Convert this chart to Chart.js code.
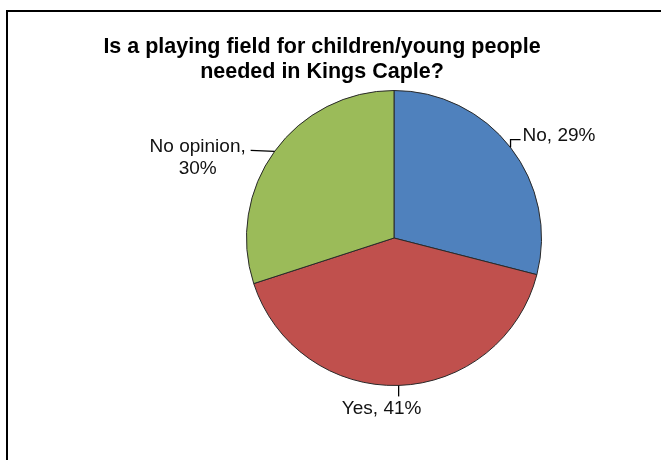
<!DOCTYPE html>
<html lang="en">

<head>
    <meta charset="UTF-8">
    <title>Playing field survey</title>
    <script src="https://cdn.jsdelivr.net/npm/chart.js"></script>
    <style>
        body { margin: 0; background: #fff; overflow: hidden; }
    </style>
</head>

<body>
    <canvas id="myChart" width="661" height="460"></canvas>
</body>

<script>

    const titleLines = ['Is a playing field for children/young people', 'needed in Kings Caple?']
    const answers = ['No', 'Yes', 'No opinion']
    const percents = [29, 41, 30]
    const sliceColors = ['#4f81bd', '#c0504d', '#9bbb59']

    // leader line (relative to slice edge) and text placement per slice
    const labelLayout = [
        { leader: [[0, 0], [0, -8], [10, -8]], dx: 12, dy: -7, align: 'left', wrap: false },
        { leader: [[0, 0], [0, 11]], dx: -17, dy: 29, align: 'center', wrap: false },
        { leader: [[0, 0], [-24, -1]], dx: -77, dy: 1, align: 'center', wrap: true }
    ]

    const font = '"Liberation Sans", Arial, sans-serif'

    const frame = {
        id: 'frame',
        beforeDraw(chart) {
            const ctx = chart.ctx
            ctx.save()
            ctx.fillStyle = '#fff'
            ctx.fillRect(0, 0, chart.width, chart.height)
            ctx.strokeStyle = '#000'
            ctx.lineWidth = 2
            ctx.beginPath()
            ctx.moveTo(7, chart.height + 5)
            ctx.lineTo(7, 11)
            ctx.lineTo(chart.width + 5, 11)
            ctx.stroke()

            ctx.fillStyle = '#000'
            ctx.font = 'bold 21.5px ' + font
            ctx.textAlign = 'center'
            ctx.textBaseline = 'alphabetic'
            titleLines.forEach((line, i) => ctx.fillText(line, 322, 53 + i * 25))
            ctx.restore()
        }
    }

    const sliceLabels = {
        id: 'sliceLabels',
        afterDatasetsDraw(chart) {
            const ctx = chart.ctx
            const meta = chart.getDatasetMeta(0)
            ctx.save()
            ctx.strokeStyle = '#000'
            ctx.lineWidth = 1.3
            ctx.fillStyle = '#111'
            ctx.font = '19px ' + font
            ctx.textBaseline = 'alphabetic'
            meta.data.forEach((arc, i) => {
                const p = arc.getProps(['x', 'y', 'startAngle', 'endAngle', 'outerRadius'], true)
                const mid = (p.startAngle + p.endAngle) / 2
                const ax = p.x + Math.cos(mid) * p.outerRadius
                const ay = p.y + Math.sin(mid) * p.outerRadius
                const lay = labelLayout[i]

                ctx.beginPath()
                lay.leader.forEach(([lx, ly], k) => {
                    if (k === 0) ctx.moveTo(ax + lx, ay + ly)
                    else ctx.lineTo(ax + lx, ay + ly)
                })
                ctx.stroke()

                const value = percents[i] + '%'
                const lines = lay.wrap ? [answers[i] + ',', value] : [answers[i] + ', ' + value]
                ctx.textAlign = lay.align
                lines.forEach((t, k) => ctx.fillText(t, ax + lay.dx, ay + lay.dy + k * 21.5))
            })
            ctx.restore()
        }
    }

    const chart = new Chart(
        document.getElementById('myChart'),
        {
            type: 'pie',
            data: {
                labels: answers,
                datasets: [{
                    data: percents,
                    backgroundColor: sliceColors,
                    borderColor: '#2a2a2a',
                    borderWidth: 1
                }]
            },
            options: {
                responsive: false,
                animation: false,
                layout: {
                    padding: { left: 246, right: 119, top: 90, bottom: 74 }
                },
                plugins: {
                    legend: { display: false },
                    tooltip: { enabled: false },
                    title: { display: false }
                }
            },
            plugins: [frame, sliceLabels]
        })

</script>

</html>
